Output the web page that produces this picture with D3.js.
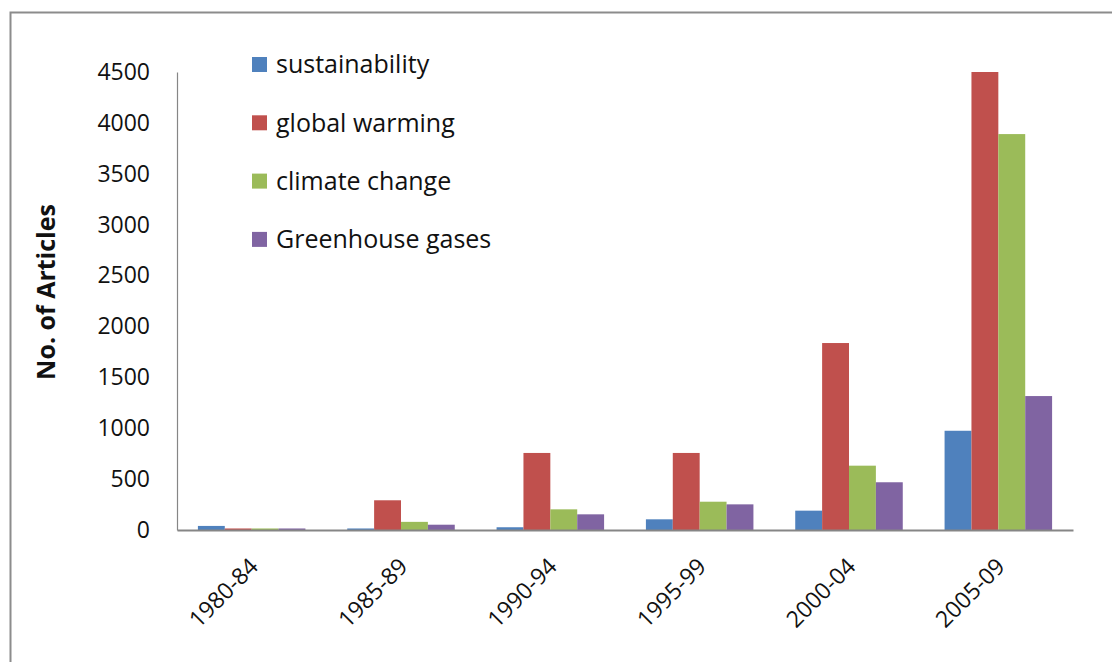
<!DOCTYPE html>
<html>
<head>
<meta charset="utf-8">
<script src="https://cdn.jsdelivr.net/npm/d3@7"></script>
<style>
  body { margin: 0; background: #fff; }
  text { font-family: "Open Sans", Lato, sans-serif; fill: #111; }
</style>
</head>
<body>
<div id="chart-area"></div>
<script>
// chart data
var periods = ['1980-84', '1985-89', '1990-94', '1995-99', '2000-04', '2005-09'];
var seriesNames = ['sustainability', 'global warming', 'climate change', 'Greenhouse gases'];
var sustainability = [40, 15, 27, 105, 190, 975];
var globalWarming = [15, 292, 757, 757, 1837, 4500];
var climateChange = [15, 80, 203, 278, 632, 3890];
var greenhouseGases = [15, 52, 154, 252, 469, 1316];
var yTicks = [0, 500, 1000, 1500, 2000, 2500, 3000, 3500, 4000, 4500];
var colors = ['#4F81BD', '#C0504D', '#9BBB59', '#8064A2'];

var allSeries = [sustainability, globalWarming, climateChange, greenhouseGases];

var margin = { left: 177, right: 39, top: 72, bottom: 132 };
var width = 1112, height = 662;
var groupWidth = width - margin.left - margin.right;
var groupHeight = height - margin.top - margin.bottom;

var svg = d3.select('#chart-area')
  .append('svg')
    .attr('width', width)
    .attr('height', height);

// outer frame of the chart area
svg.append('rect')
  .attr('x', 10.5)
  .attr('y', 12.5)
  .attr('width', width)
  .attr('height', height)
  .attr('fill', 'none')
  .attr('stroke', '#8c8c8c')
  .attr('stroke-width', 2);

var graph = svg.append('g')
  .attr('transform', `translate(${margin.left}, ${margin.top})`);

var x = d3.scaleBand()
  .domain(periods)
  .range([0, groupWidth])
  .paddingInner(0.28)
  .paddingOuter(0.14);

var xInner = d3.scaleBand()
  .domain(seriesNames)
  .range([0, x.bandwidth()]);

var y = d3.scaleLinear()
  .domain([0, 4500])
  .range([groupHeight, 0]);

// y axis
var yAxisCall = d3.axisLeft(y)
  .tickValues(yTicks)
  .tickFormat(d3.format('d'))
  .tickSize(0)
  .tickPadding(27);

var yAxis = graph.append('g')
  .attr('class', 'y-axis')
  .call(yAxisCall);
yAxis.select('.domain').attr('stroke', '#868686').attr('stroke-width', 1.2);
yAxis.selectAll('text')
  .attr('font-size', '23px')
  .attr('font-family', '"Open Sans", sans-serif')
  .attr('fill', '#111');

// bars
var groups = graph.selectAll('g.period')
  .data(periods)
  .enter()
  .append('g')
    .attr('class', 'period')
    .attr('transform', (p) => `translate(${x(p)},0)`);

groups.selectAll('rect')
  .data((p, i) => seriesNames.map((name, s) => ({ name: name, value: allSeries[s][i], color: colors[s] })))
  .enter()
  .append('rect')
    .attr('x', (d) => xInner(d.name))
    .attr('y', (d) => y(d.value))
    .attr('width', xInner.bandwidth())
    .attr('height', (d) => groupHeight - y(d.value))
    .attr('fill', (d) => d.color);

// x axis
var xAxisCall = d3.axisBottom(x).tickSize(0);
var xAxis = graph.append('g')
  .attr('class', 'x axis')
  .attr('transform', 'translate(0,' + groupHeight + ')')
  .call(xAxisCall);
xAxis.select('.domain').attr('stroke', '#868686').attr('stroke-width', 2);
xAxis.selectAll('text')
  .attr('font-size', '23px')
  .attr('font-family', '"Open Sans", sans-serif')
  .attr('fill', '#111')
  .attr('text-anchor', 'end')
  .attr('x', 0)
  .attr('y', 0)
  .attr('dy', 0)
  .attr('transform', 'translate(8, 38) rotate(-45)');

// y axis title
graph.append('text')
  .attr('font-size', '25px')
  .attr('font-weight', 'bold')
  .attr('x', -(groupHeight / 2) + 9)
  .attr('y', -122)
  .attr('text-anchor', 'middle')
  .attr('transform', 'rotate(-90)')
  .text('No. of Articles');

// legend
var legend = svg.selectAll('g.legend')
  .data(seriesNames)
  .enter()
  .append('g')
    .attr('class', 'legend')
    .attr('transform', (d, i) => `translate(252, ${57 + i * 58.3})`);

legend.append('rect')
  .attr('width', 15)
  .attr('height', 15)
  .attr('fill', (d, i) => colors[i]);

legend.append('text')
  .attr('x', 24)
  .attr('y', 7.5)
  .attr('dy', '0.35em')
  .attr('font-size', '25px')
  .text((d) => d);
</script>
</body>
</html>
